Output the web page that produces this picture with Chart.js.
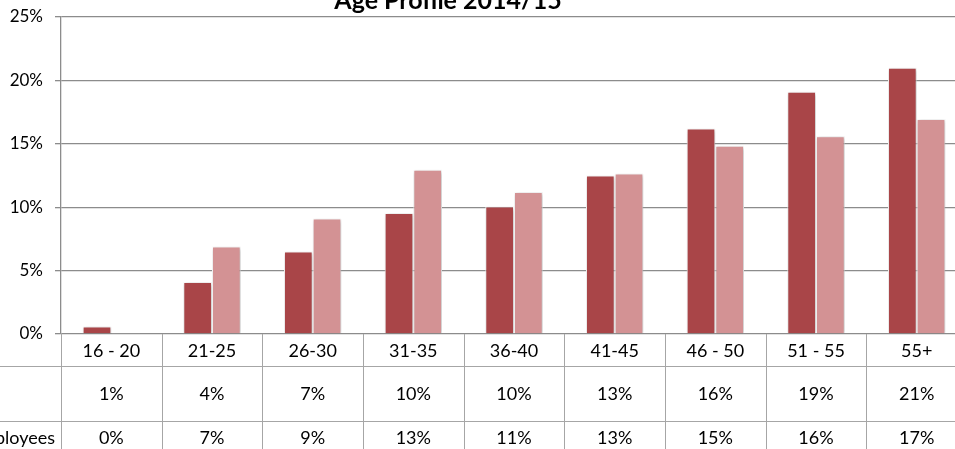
<!DOCTYPE html>
<html>
<head>
<meta charset="utf-8">
<script src="https://cdn.jsdelivr.net/npm/chart.js@4/dist/chart.umd.min.js"></script>
<style>
  body { margin: 0; background: #fff; overflow: hidden; width: 955px; height: 449px; position: relative; }
  #wrap { position: absolute; left: -120px; top: -20px; width: 1100px; height: 480px; }
</style>
</head>
<body>
<div id="wrap"><canvas id="ageChart" width="1100" height="480"></canvas></div>
<script>
const chartTitle = "Age Profile 2014/15";
const ageBands = ["16 - 20", "21-25", "26-30", "31-35", "36-40", "41-45", "46 - 50", "51 - 55", "55+"];
const seriesA = [0.6, 4.1, 6.5, 9.55, 10.05, 12.5, 16.2, 19.1, 21.0];
const seriesB = [0.08, 6.9, 9.1, 12.95, 11.2, 12.65, 14.85, 15.6, 16.95];
const rowLabels = ["", "Employees"];
const yTicks = [0, 5, 10, 15, 20, 25];

const FONT = "Lato, 'Noto Sans', sans-serif";
const GRID = "#8c8c8c";
const TABLE_LINE = "#a6a6a6";

const barShadow = {
  id: "barShadow",
  beforeDatasetsDraw(chart) {
    const ctx = chart.ctx;
    ctx.save();
    ctx.shadowColor = "rgba(0,0,0,0.28)";
    ctx.shadowBlur = 4;
    ctx.shadowOffsetX = 1;
    ctx.shadowOffsetY = 1;
  },
  afterDatasetsDraw(chart) {
    chart.ctx.restore();
  }
};

// data table under the x axis, plus the clipped title
const dataTable = {
  id: "dataTable",
  afterDraw(chart) {
    const ctx = chart.ctx;
    const xs = chart.scales.x;
    const area = chart.chartArea;
    const n = ageBands.length;
    const w = (area.right - area.left) / n;
    const y0 = area.bottom, y1 = y0 + 32, y2 = y1 + 55, y3 = y2 + 32;

    ctx.save();
    ctx.strokeStyle = TABLE_LINE;
    ctx.lineWidth = 1;
    ctx.beginPath();
    [y1, y2, y3].forEach(y => {
      ctx.moveTo(0, y + 0.5);
      ctx.lineTo(chart.width, y + 0.5);
    });
    for (let i = 0; i <= n; i++) {
      const x = Math.round(area.left + i * w) + 0.5;
      ctx.moveTo(x, y0);
      ctx.lineTo(x, chart.height);
    }
    ctx.stroke();

    ctx.fillStyle = "#000";
    ctx.font = "18px " + FONT;
    ctx.textAlign = "center";
    ctx.textBaseline = "middle";
    ageBands.forEach((label, i) => {
      const cx = xs.getPixelForValue(i);
      ctx.fillText(label, cx, (y0 + y1) / 2 + 1);
      ctx.fillText(Math.round(seriesA[i]) + "%", cx, (y1 + y2) / 2 + 1);
      ctx.fillText(Math.round(seriesB[i]) + "%", cx, (y2 + y3) / 2 + 1);
    });
    ctx.textAlign = "right";
    ctx.fillText(rowLabels[0], area.left - 6, (y1 + y2) / 2 + 1);
    ctx.fillText(rowLabels[1], area.left - 6, (y2 + y3) / 2 + 1);

    ctx.font = "bold 25px " + FONT;
    ctx.textAlign = "center";
    ctx.textBaseline = "alphabetic";
    ctx.fillText(chartTitle, 568, 29);
    ctx.restore();
  }
};

new Chart(document.getElementById("ageChart"), {
  type: "bar",
  data: {
    labels: ageBands,
    datasets: [
      {
        label: "Age band",
        data: seriesA,
        backgroundColor: "#a94548",
        borderColor: "#ffffff",
        borderWidth: 1,
        borderSkipped: "bottom"
      },
      {
        label: "Employees",
        data: seriesB,
        backgroundColor: "#d39294",
        borderColor: "#ffffff",
        borderWidth: 1,
        borderSkipped: "bottom"
      }
    ]
  },
  options: {
    responsive: false,
    animation: false,
    layout: { padding: { top: 37, right: 13, bottom: 126, left: 0 } },
    plugins: {
      legend: { display: false },
      title: { display: false },
      tooltip: { enabled: false }
    },
    datasets: { bar: { categoryPercentage: 0.57, barPercentage: 1.0 } },
    scales: {
      x: {
        ticks: { display: false },
        grid: { display: false },
        border: { display: false },
        afterFit(scale) { scale.height = 0; }
      },
      y: {
        min: 0,
        max: 25,
        afterFit(scale) { scale.width = 181; },
        afterBuildTicks(scale) { scale.ticks = yTicks.map(v => ({ value: v })); },
        ticks: {
          padding: 12,
          color: "#000",
          font: { family: FONT, size: 17 },
          callback: v => v + "%"
        },
        grid: { color: GRID, lineWidth: 1.3, tickLength: 6 },
        border: { display: true, color: GRID, width: 1.3 }
      }
    }
  },
  plugins: [barShadow, dataTable]
});
</script>
</body>
</html>
